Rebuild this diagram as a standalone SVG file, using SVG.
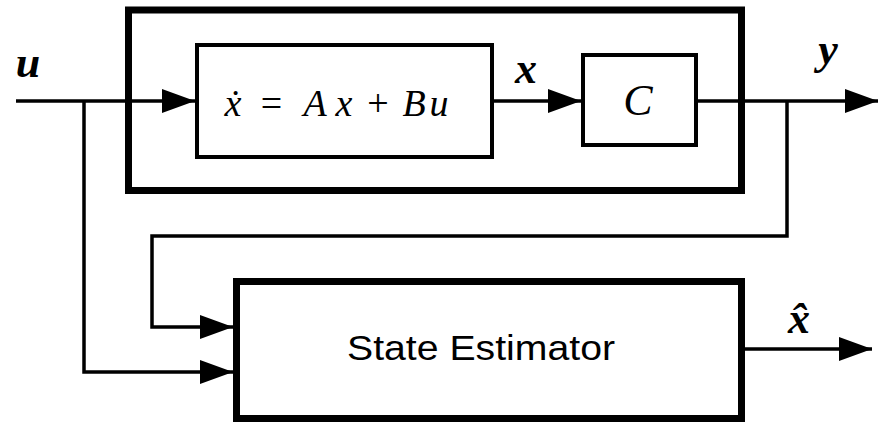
<svg xmlns="http://www.w3.org/2000/svg" width="882" height="423" viewBox="0 0 882 423">
<style>
.box{fill:none;stroke:#000}
.thick{stroke-width:7}
.thin{stroke-width:4}
.wire{fill:none;stroke:#000;stroke-width:3.5;stroke-linejoin:miter}
.math{font-family:'Liberation Serif','Times New Roman',serif;font-style:italic;fill:#000}
.op{font-family:'Liberation Serif','Times New Roman',serif;fill:#000}
.bold{font-weight:bold}
.sans{font-family:'Liberation Sans',Arial,sans-serif;fill:#000}
</style>
<defs>
<marker id="arr" markerUnits="userSpaceOnUse" markerWidth="33" markerHeight="24" refX="33" refY="12" orient="auto">
<path d="M0,0 L33,12 L0,24 z" fill="#000"/>
</marker>
</defs>
<rect width="882" height="423" fill="#fff"/>
<g id="connectors">
<path class="wire" d="M16,101 H195" marker-end="url(#arr)"/>
<path class="wire" d="M84,101 V372 H233" marker-end="url(#arr)"/>
<path class="wire" d="M494,101 H581" marker-end="url(#arr)"/>
<path class="wire" d="M698,101 H878" marker-end="url(#arr)"/>
<path class="wire" d="M787,101 V236 H152 V327 H233" marker-end="url(#arr)"/>
<path class="wire" d="M745,349 H872" marker-end="url(#arr)"/>
</g>
<g id="plant">
<rect class="box thick" x="128.5" y="10" width="613" height="180.5"/>
</g>
<g id="state-eq">
<rect class="box thin" x="197" y="45" width="295" height="112"/>
<text class="math" font-size="38" y="116" text-anchor="middle"><tspan x="233">ẋ</tspan><tspan x="315">A</tspan><tspan x="344">x</tspan><tspan x="414">B</tspan><tspan x="439">u</tspan></text>
<text class="op" font-size="38" y="116" text-anchor="middle"><tspan x="271.5">=</tspan><tspan x="378">+</tspan></text>
</g>
<g id="output-C">
<rect class="box thin" x="583" y="55" width="113" height="90"/>
<text class="math" font-size="44" x="638" y="115" text-anchor="middle">C</text>
</g>
<g id="estimator">
<rect class="box thick" x="236.5" y="281.5" width="505" height="137"/>
<text class="sans" font-size="35" x="481" y="360" text-anchor="middle" textLength="268" lengthAdjust="spacingAndGlyphs">State Estimator</text>
</g>
<g id="labels">
<text class="math bold" font-size="44" x="28" y="77" text-anchor="middle">u</text>
<text class="math bold" font-size="44" x="526" y="83" text-anchor="middle">x</text>
<text class="math bold" font-size="44" x="828" y="64" text-anchor="middle">y</text>
<text class="math bold" font-size="44" x="799" y="333" text-anchor="middle">x̂</text>
</g>
</svg>
